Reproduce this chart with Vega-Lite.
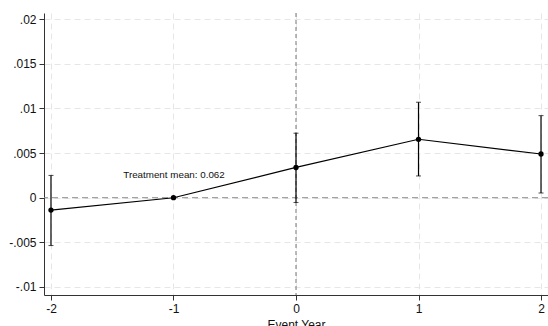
{
  "$schema": "https://vega.github.io/schema/vega-lite/v6.json",
  "width": 504,
  "height": 282,
  "autosize": "none",
  "padding": {"left": 44, "top": 13, "right": 0, "bottom": 31},
  "background": "white",
  "config": {
    "view": {"stroke": null},
    "font": "Liberation Sans",
    "axis": {
      "labelFont": "Liberation Sans",
      "titleFont": "Liberation Sans",
      "labelColor": "#111",
      "titleColor": "#111",
      "domainColor": "#333",
      "tickColor": "#333",
      "gridColor": "#e6e6e6",
      "gridDash": [6, 4],
      "gridWidth": 1
    }
  },
  "datasets": {
    "est": [
      {"year": -2, "coef": -0.00138, "lo": -0.00536, "hi": 0.0025},
      {"year": -1, "coef": 0.0, "lo": null, "hi": null},
      {"year": 0, "coef": 0.0034, "lo": -0.00053, "hi": 0.00723},
      {"year": 1, "coef": 0.00655, "lo": 0.00244, "hi": 0.0107},
      {"year": 2, "coef": 0.0049, "lo": 0.00053, "hi": 0.0092}
    ]
  },
  "layer": [
    {
      "data": {"values": [{"y0": 0}]},
      "mark": {"type": "rule", "color": "#888", "strokeDash": [6, 4], "strokeWidth": 1},
      "encoding": {
        "y": {
          "field": "y0",
          "type": "quantitative",
          "scale": {"domain": [-0.0109, 0.0207], "nice": false, "zero": false},
          "axis": {
            "title": null,
            "values": [-0.01, -0.005, 0, 0.005, 0.01, 0.015, 0.02],
            "labelExpr": "(datum.value < 0 ? '-' : '') + replace(format(abs(datum.value), '.3~f'), '0.', '.')",
            "labelFontSize": 12,
            "labelPadding": 3,
            "tickSize": 5,
            "grid": true
          }
        }
      }
    },
    {
      "data": {"values": [{"x0": 0}]},
      "mark": {"type": "rule", "color": "#777", "strokeDash": [4, 3], "strokeWidth": 1},
      "encoding": {
        "x": {
          "field": "x0",
          "type": "quantitative",
          "scale": {"domain": [-2.057, 2.057], "nice": false, "zero": false},
          "axis": {
            "title": "Event Year",
            "values": [-2, -1, 0, 1, 2],
            "labelExpr": "(datum.value < 0 ? '-' : '') + format(abs(datum.value), 'd')",
            "labelFontSize": 12,
            "titleFontSize": 12,
            "titleFontWeight": "normal",
            "labelPadding": 3,
            "titlePadding": 5,
            "tickSize": 5,
            "grid": true
          }
        }
      }
    },
    {
      "data": {"name": "est"},
      "transform": [{"filter": "datum.lo != null"}],
      "mark": {"type": "rule", "color": "#000", "strokeWidth": 1.2},
      "encoding": {
        "x": {"field": "year", "type": "quantitative"},
        "y": {"field": "lo", "type": "quantitative"},
        "y2": {"field": "hi"}
      }
    },
    {
      "data": {"name": "est"},
      "transform": [{"filter": "datum.lo != null"}],
      "mark": {"type": "tick", "color": "#000", "size": 5, "thickness": 1, "orient": "horizontal"},
      "encoding": {
        "x": {"field": "year", "type": "quantitative"},
        "y": {"field": "lo", "type": "quantitative"}
      }
    },
    {
      "data": {"name": "est"},
      "transform": [{"filter": "datum.hi != null"}],
      "mark": {"type": "tick", "color": "#000", "size": 5, "thickness": 1, "orient": "horizontal"},
      "encoding": {
        "x": {"field": "year", "type": "quantitative"},
        "y": {"field": "hi", "type": "quantitative"}
      }
    },
    {
      "data": {"name": "est"},
      "mark": {"type": "line", "color": "#000", "strokeWidth": 1.2},
      "encoding": {
        "x": {"field": "year", "type": "quantitative"},
        "y": {"field": "coef", "type": "quantitative"}
      }
    },
    {
      "data": {"name": "est"},
      "mark": {"type": "point", "filled": true, "color": "#000", "opacity": 1, "size": 28},
      "encoding": {
        "x": {"field": "year", "type": "quantitative"},
        "y": {"field": "coef", "type": "quantitative"}
      }
    },
    {
      "data": {"values": [{"x": -1.41, "y": 0.0025, "label": "Treatment mean:  0.062"}]},
      "mark": {"type": "text", "align": "left", "baseline": "middle", "fontSize": 9.8, "color": "#111"},
      "encoding": {
        "x": {"field": "x", "type": "quantitative"},
        "y": {"field": "y", "type": "quantitative"},
        "text": {"field": "label"}
      }
    }
  ]
}
